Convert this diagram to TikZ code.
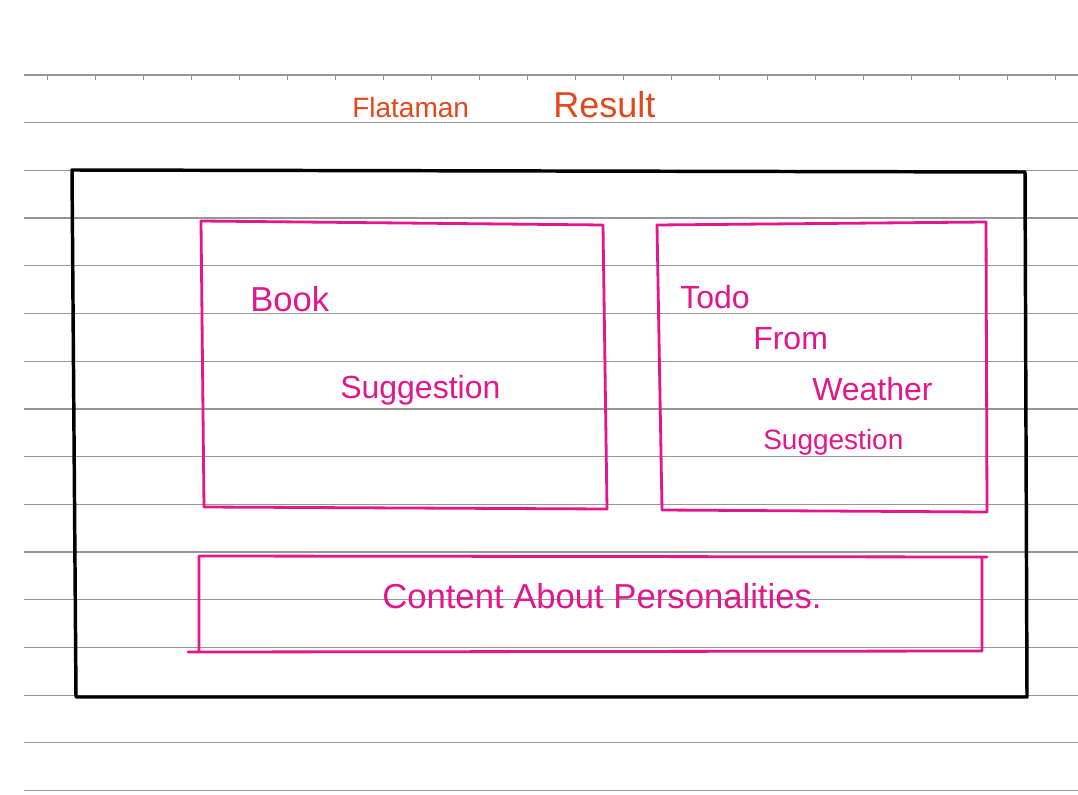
\documentclass[tikz,border=0pt]{standalone}
\usepackage{xcolor}
\usepackage{fontspec}
\newfontfamily\sketchfont{Liberation Sans}
\definecolor{pinkink}{RGB}{228,22,140}
\definecolor{redink}{RGB}{226,72,28}
\definecolor{ruleink}{RGB}{150,150,150}
\tikzset{
  ruled/.style={draw=ruleink, line width=0.9pt},
  frame/.style={draw=black, line width=2.6pt, line cap=round, line join=round},
  pinkbox/.style={draw=pinkink, line width=2.1pt, line cap=round, line join=round},
  ink/.style={text=pinkink, inner sep=0pt, anchor=base west, font=\sketchfont\fontsize{#1}{#1}\selectfont},
  ink/.default=24,
  title/.style={ink=#1, text=redink},
  title/.default=24
}
\begin{document}
\begin{tikzpicture}[x=0.75pt,y=0.75pt,yscale=-1,xscale=1]
\fill[white] (0,0) rectangle (1078,795);
\useasboundingbox (0,0) rectangle (1078,795);

\foreach \k in {0,...,15}
  \draw[ruled] (24,75+47.7*\k) -- (1078,75+47.7*\k);
\foreach \t in {0,...,21}
  \draw[ruled, line width=0.6pt] (47+48*\t,75) -- (47+48*\t,80);

\draw[frame] (72,170) -- (1025,172) -- (1027,697) -- (76,697) -- cycle;

\draw[pinkbox] (201,221) -- (603,225) -- (607,509) -- (204,507) -- cycle;
\draw[pinkbox] (657,225) -- (986,222) -- (987,512) -- (662,510) -- cycle;
\draw[pinkbox] (199,652) -- (199,556) -- (987,557);
\draw[pinkbox] (188,652) -- (982,651) -- (982,558);

\node[title=21] (flataman) at (352,118) {Flataman};
\node[title=27] (result) at (553,118) {Result};

\node[ink=26] (book) at (250,311) {Book};
\node[ink] (suggestleft) at (340,398) {Suggestion};

\node[ink] (todo) at (680,308) {Todo};
\node[ink] (from) at (753,349) {From};
\node[ink] (weather) at (812,400) {Weather};
\node[ink=21] (suggestright) at (763,449) {Suggestion};

\node[ink=26] (content) at (382,608) {Content About Personalities.};

\end{tikzpicture}
\end{document}
